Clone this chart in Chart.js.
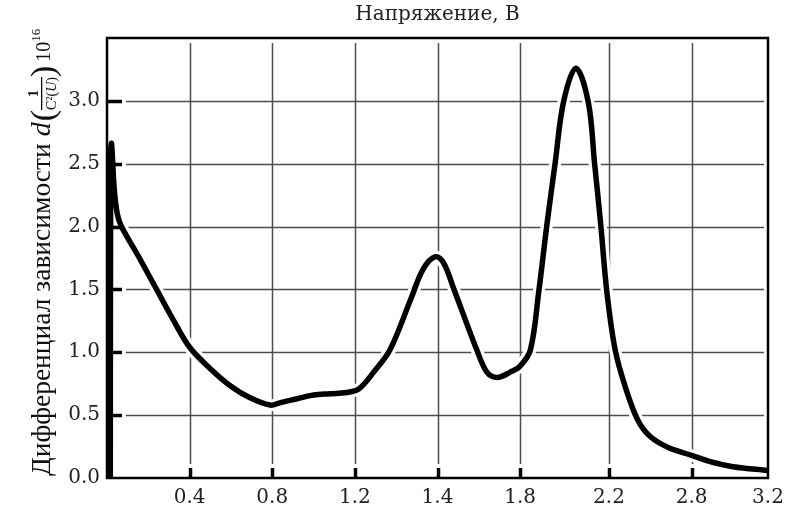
<!DOCTYPE html>
<html>
<head>
<meta charset="utf-8">
<script src="https://cdn.jsdelivr.net/npm/chart.js@4.4.1/dist/chart.umd.min.js"></script>
<style>
  body { margin: 0; background: #fff; }
  canvas { display: block; }
</style>
</head>
<body>
<canvas id="diffChart" width="786" height="516"></canvas>
<script>
// Data
const xValues = [0.016, 0.018, 0.022, 0.035, 0.05, 0.07, 0.15, 0.24, 0.32, 0.40, 0.5, 0.6, 0.69, 0.79, 0.84, 0.92, 1.0, 1.08, 1.16, 1.22, 1.29, 1.37, 1.47, 1.53, 1.59, 1.63, 1.68, 1.79, 1.84, 1.89, 1.95, 2.0, 2.05, 2.09, 2.13, 2.17, 2.21, 2.27, 2.33, 2.36, 2.39, 2.42, 2.46, 2.51, 2.57, 2.63, 2.72, 2.83, 2.92, 3.03, 3.2];
const yValues = [0.0, 2.6, 2.66, 2.3, 2.1, 2.0, 1.77, 1.5, 1.26, 1.04, 0.87, 0.73, 0.64, 0.58, 0.60, 0.63, 0.66, 0.67, 0.68, 0.71, 0.84, 1.02, 1.42, 1.66, 1.76, 1.71, 1.50, 1.02, 0.84, 0.80, 0.84, 0.89, 1.02, 1.48, 2.02, 2.51, 2.99, 3.26, 2.99, 2.51, 2.02, 1.48, 1.02, 0.72, 0.46, 0.33, 0.24, 0.18, 0.13, 0.09, 0.06];

// Tick positions and the labels printed on them
const xTickValues = [0, 0.4, 0.8, 1.2, 1.6, 2.0, 2.43, 2.83, 3.2];
const xTickLabels = ['', '0.4', '0.8', '1.2', '1.4', '1.8', '2.2', '2.8', '3.2'];
const yTickValues = [0, 0.5, 1.0, 1.5, 2.0, 2.5, 3.0];
const yTickLabels = ['0.0', '0.5', '1.0', '1.5', '2.0', '2.5', '3.0'];

const xTitle = 'Напряжение, В';
const yTitleText = 'Дифференциал зависимости';

const points = xValues.map((x, i) => ({ x: x, y: yValues[i] }));

const tickFont = { family: 'DejaVu Serif', size: 20 };

// grid with gaps + inner tick marks + frame
const framePlugin = {
  id: 'frame',
  beforeDatasetsDraw(chart) {
    const { ctx, chartArea: a, scales } = chart;
    ctx.save();
    ctx.strokeStyle = '#4d4d4d';
    ctx.lineWidth = 1.5;
    ctx.beginPath();
    xTickValues.forEach(v => {
      if (v <= 0 || v >= 3.2) return;
      const px = Math.round(scales.x.getPixelForValue(v)) + 0.5;
      ctx.moveTo(px, a.top + 5);
      ctx.lineTo(px, a.bottom - 14);
    });
    yTickValues.forEach(v => {
      if (v <= 0) return;
      const py = Math.round(scales.y.getPixelForValue(v)) + 0.5;
      ctx.moveTo(a.left + 19, py);
      ctx.lineTo(a.right - 4, py);
    });
    ctx.stroke();
    ctx.restore();
  },
  afterDatasetsDraw(chart) {
    const { ctx, chartArea: a, scales } = chart;
    ctx.save();
    ctx.strokeStyle = '#000';
    ctx.lineWidth = 2.5;
    ctx.strokeRect(a.left, a.top, a.right - a.left, a.bottom - a.top);
    ctx.lineWidth = 3.5;
    ctx.beginPath();
    xTickValues.forEach(v => {
      if (v <= 0 || v >= 3.2) return;
      const px = Math.round(scales.x.getPixelForValue(v)) + 0.5;
      ctx.moveTo(px, a.bottom);
      ctx.lineTo(px, a.bottom - 10);
    });
    yTickValues.forEach(v => {
      if (v <= 0) return;
      const py = Math.round(scales.y.getPixelForValue(v)) + 0.5;
      ctx.moveTo(a.left, py);
      ctx.lineTo(a.left + 15, py);
    });
    ctx.stroke();
    ctx.restore();
  }
};

// rotated y title with the small formula
const yTitlePlugin = {
  id: 'yTitle',
  afterDraw(chart) {
    const ctx = chart.ctx;
    const a = chart.chartArea;
    ctx.save();
    ctx.translate(50, a.bottom - 2);
    ctx.rotate(-Math.PI / 2);
    ctx.fillStyle = '#111';
    ctx.textBaseline = 'alphabetic';
    let x = 0;
    function put(text, font, dy) {
      ctx.font = font;
      ctx.fillText(text, x, dy || 0);
      x += ctx.measureText(text).width;
    }
    put(yTitleText + ' ', '27.5px "Liberation Serif"');
    put('d', 'italic 28px "Liberation Serif"');
    x += 1;
    put('(', '34px "Liberation Serif"', 4);

    // fraction 1 / C²(U)
    const small = '14px "Liberation Serif"';
    const smallIt = 'italic 14px "Liberation Serif"';
    ctx.font = small;
    const w1 = ctx.measureText('C²(').width;
    const w3 = ctx.measureText(')').width;
    ctx.font = smallIt;
    const w2 = ctx.measureText('U').width;
    const denW = w1 + w2 + w3;
    const fx = x;
    ctx.font = 'bold 14px "Liberation Serif"';
    const nw = ctx.measureText('1').width;
    ctx.fillText('1', fx + (denW - nw) / 2, -12);
    ctx.fillRect(fx, -9, denW, 1.3);
    ctx.font = small;
    ctx.fillText('C²(', fx, 6);
    ctx.font = smallIt;
    ctx.fillText('U', fx + w1, 6);
    ctx.font = small;
    ctx.fillText(')', fx + w1 + w2, 6);
    x = fx + denW;

    put(')', '34px "Liberation Serif"', 4);
    x += 4;
    put('10', '20px "Liberation Serif"');
    put('16', '13px "Liberation Serif"', -10);
    ctx.restore();
  }
};

const ctx = document.getElementById('diffChart').getContext('2d');

new Chart(ctx, {
  type: 'line',
  data: {
    datasets: [
      {
        data: points,
        borderColor: '#000',
        borderWidth: 5.5,
        pointRadius: 0,
        tension: 0.35,
        clip: 0,
        order: 0
      },
      {
        // white halo that breaks the grid lines round the curve
        data: points,
        borderColor: '#fff',
        borderWidth: 12,
        pointRadius: 0,
        tension: 0.35,
        clip: 0,
        order: 1
      }
    ]
  },
  options: {
    responsive: false,
    animation: false,
    layout: { padding: { left: 62, right: 18, top: 0, bottom: 0 } },
    plugins: {
      legend: { display: false },
      tooltip: { enabled: false },
      title: {
        display: true,
        text: xTitle,
        fullSize: false,
        color: '#222',
        font: { family: 'DejaVu Serif', size: 20, weight: 'normal' },
        padding: { top: 3, bottom: 11 }
      }
    },
    scales: {
      x: {
        type: 'linear',
        min: 0,
        max: 3.2,
        grid: { display: false, drawTicks: false },
        border: { display: false },
        afterBuildTicks: s => { s.ticks = xTickValues.map(v => ({ value: v })); },
        afterFit: s => { s.height = 38; s.paddingLeft = 0; s.paddingRight = 0; },
        ticks: {
          autoSkip: false,
          maxRotation: 0,
          padding: 8,
          color: '#222',
          font: tickFont,
          callback: (v, i) => xTickLabels[i]
        }
      },
      y: {
        min: 0,
        max: 3.5,
        grid: { display: false, drawTicks: false },
        border: { display: false },
        afterBuildTicks: s => { s.ticks = yTickValues.map(v => ({ value: v })); },
        afterFit: s => { s.width = 45; s.paddingTop = 0; s.paddingBottom = 0; },
        ticks: {
          padding: 7,
          color: '#222',
          font: tickFont,
          callback: (v, i) => yTickLabels[i]
        }
      }
    }
  },
  plugins: [framePlugin, yTitlePlugin]
});
</script>
</body>
</html>
